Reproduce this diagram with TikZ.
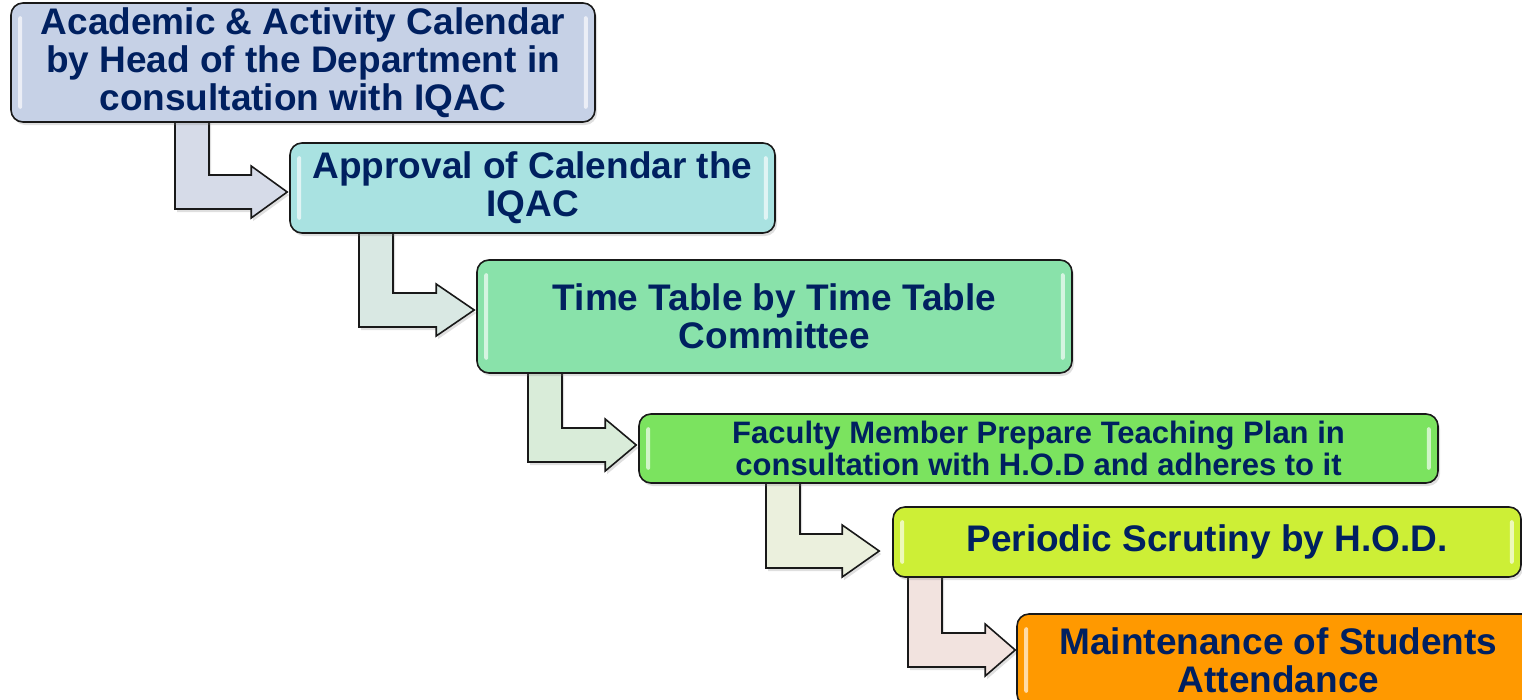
\documentclass[tikz,border=0pt]{standalone}
\usepackage{fontspec}
\setmainfont{Liberation Sans}
\usetikzlibrary{calc,shadows,backgrounds}
\definecolor{navy}{HTML}{002060}
\definecolor{cA}{HTML}{C6D1E6}
\definecolor{cB}{HTML}{A9E2E1}
\definecolor{cC}{HTML}{89E2AA}
\definecolor{cD}{HTML}{7BE35F}
\definecolor{cE}{HTML}{CDEF36}
\definecolor{cF}{HTML}{FF9900}
\definecolor{aA}{HTML}{D6DBE8}
\definecolor{aB}{HTML}{D9E8E3}
\definecolor{aC}{HTML}{D9ECD9}
\definecolor{aD}{HTML}{EBF0DD}
\definecolor{aE}{HTML}{F2E3DF}
\tikzset{
  box/.style={draw=black!90, line width=1.6pt, rounded corners=12pt, text=navy,
    align=center, inner sep=0pt,
    drop shadow={opacity=0.25, shadow xshift=2pt, shadow yshift=-3pt}},
  bigtext/.style={font=\fontsize{37}{38}\selectfont\bfseries},
  smalltext/.style={font=\fontsize{31}{32}\selectfont\bfseries},
  arrowsty/.style={draw=black!90, line width=1.6pt, line join=miter,
    drop shadow={opacity=0.25, shadow xshift=2pt, shadow yshift=-3pt}},
  glossy/.style={fill=white, opacity=0.65, rounded corners=2pt}
}
% #1 from, #2 to, #3 shaft left x, #4 shaft centre y (px), #5 gap, #6 head length, #7 fill
\newcommand\bentarrow[7]{%
  \path[arrowsty, fill=#7] let \p1=(#1.south), \p2=(#2.west) in
    ({#3pt},{\y1+8pt}) -- ({#3pt},{-#4pt-17pt})
    -- ({\x2-#5pt-#6pt},{-#4pt-17pt}) -- ({\x2-#5pt-#6pt},{-#4pt-26pt})
    -- ({\x2-#5pt},{-#4pt})
    -- ({\x2-#5pt-#6pt},{-#4pt+26pt}) -- ({\x2-#5pt-#6pt},{-#4pt+17pt})
    -- ({#3pt+34pt},{-#4pt+17pt}) -- ({#3pt+34pt},{\y1+8pt}) -- cycle;}
\newcommand\gloss[1]{%
  \fill[glossy] ([xshift=8pt,yshift=-14pt]#1.north west) rectangle ([xshift=12pt,yshift=14pt]#1.south west);
  \fill[glossy] ([xshift=-12pt,yshift=-14pt]#1.north east) rectangle ([xshift=-8pt,yshift=14pt]#1.south east);}
\begin{document}
\begin{tikzpicture}[x=1pt,y=1pt]
\useasboundingbox (0,0) rectangle (1522,-699);
\clip (0,0) rectangle (1522,-699);
\node[box, fill=cA, bigtext, minimum width=584pt, minimum height=119pt] (b1) at (303,-62.5)
  {Academic \& Activity Calendar\\by Head of the Department in\\consultation with IQAC};
\node[box, fill=cB, bigtext, minimum width=485pt, minimum height=90pt] (b2) at (532.5,-188)
  {Approval of Calendar the\\IQAC};
\node[box, fill=cC, bigtext, minimum width=595pt, minimum height=113pt] (b3) at (774.5,-316.5)
  {Time Table by Time Table\\Committee};
\node[box, fill=cD, smalltext, minimum width=799pt, minimum height=69pt] (b4) at (1038.5,-448.5)
  {Faculty Member Prepare Teaching Plan in\\consultation with H.O.D and adheres to it};
\node[box, fill=cE, bigtext, minimum width=628pt, minimum height=70pt] (b5) at (1207,-542)
  {Periodic Scrutiny by H.O.D.};
\node[box, fill=cF, bigtext, minimum width=523pt, minimum height=92pt] (b6) at (1278.5,-660)
  {Maintenance of Students\\Attendance};
\gloss{b1}\gloss{b2}\gloss{b3}\gloss{b4}\gloss{b5}\gloss{b6}
\begin{pgfonlayer}{background}
\bentarrow{b1}{b2}{175}{192}{2}{36}{aA}
\bentarrow{b2}{b3}{359}{310}{2}{38}{aB}
\bentarrow{b3}{b4}{528}{445}{2}{31}{aC}
\bentarrow{b4}{b5}{766}{551}{13}{37}{aD}
\bentarrow{b5}{b6}{908}{650}{1}{30}{aE}
\end{pgfonlayer}
\end{tikzpicture}
\end{document}
